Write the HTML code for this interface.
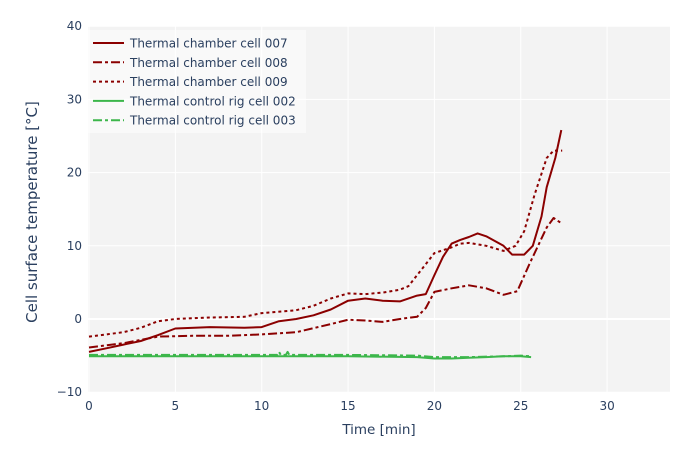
<!DOCTYPE html>
<html><head><meta charset="utf-8"><style>
body{margin:0;background:#fff;}
svg{font-family:"DejaVu Sans","Liberation Sans",sans-serif;}
</style></head><body>
<svg id="chart" width="695" height="452" xmlns="http://www.w3.org/2000/svg">
<rect x="88" y="26" width="582" height="366" fill="#f3f3f3"/>
<g id="grid"></g>
<g id="series"></g>
<g id="ticks"></g>
<text transform="translate(37,212) rotate(-90)" text-anchor="middle" font-size="15" fill="#2a3f5f">Cell surface temperature [°C]</text>
<text x="379" y="434" text-anchor="middle" font-size="13.5" fill="#2a3f5f">Time [min]</text>
<g id="legend"></g>
</svg>
<script>
const xTicks=[0,5,10,15,20,25,30];
const yTicks=[-10,0,10,20,30,40];
const seriesNames=["Thermal chamber cell 007","Thermal chamber cell 008","Thermal chamber cell 009","Thermal control rig cell 002","Thermal control rig cell 003"];
const t007=[0,1,2,3,4,5,7,9,10,11,12,13,14,15,16,17,18,19,19.5,20,20.5,21,21.5,22,22.5,23,24,24.5,25.2,25.7,26.2,26.5,27,27.35];
const v007=[-4.5,-4,-3.5,-3,-2.2,-1.3,-1.1,-1.2,-1.1,-0.3,0,0.5,1.3,2.5,2.8,2.5,2.4,3.2,3.4,6,8.5,10.3,10.8,11.2,11.7,11.3,10,8.8,8.8,10,14,18,22,25.8];
const t008=[0,2,4,6,8,10,12,14,15,16,17,18,18.3,19,19.5,20,21,22,23,24,24.8,25.5,26.5,26.9,27.4];
const v008=[-3.9,-3.3,-2.4,-2.3,-2.3,-2.1,-1.8,-0.7,-0.1,-0.2,-0.4,0,0.1,0.3,1.5,3.7,4.2,4.6,4.2,3.3,3.8,7.5,12.5,13.8,13];
const t009=[0,2,3,4,5,7,9,10,12,13,14,15,16,17,18,18.5,19.5,20,21,21.5,22,23,24,24.7,25.2,25.8,26.5,26.9,27.4];
const v009=[-2.4,-1.8,-1.2,-0.3,0,0.2,0.3,0.8,1.2,1.8,2.8,3.5,3.4,3.6,4,4.5,7.5,9,9.8,10.3,10.4,10,9.3,10,12,17,22,23,23];
const t002=[0,5,10,15,19,20,21,22,23,24,25,25.6];
const v002=[-5.1,-5.1,-5.1,-5.1,-5.2,-5.4,-5.4,-5.3,-5.2,-5.1,-5.1,-5.2];
const t003=[0,5,10,10.9,11,11.1,11.4,11.5,11.6,15,19,20,22,24,25,25.6];
const v003=[-4.9,-4.9,-4.9,-4.9,-4.5,-4.9,-4.9,-4.5,-4.9,-4.9,-5,-5.2,-5.2,-5.1,-5,-5.1];
const X=t=>89+t*17.27, Y=v=>319-v*7.32;
const NS="http://www.w3.org/2000/svg";
function mk(tag,attrs,parent){const e=document.createElementNS(NS,tag);for(const k in attrs)e.setAttribute(k,attrs[k]);parent.appendChild(e);return e;}
const grid=document.getElementById('grid'),ticks=document.getElementById('ticks'),ser=document.getElementById('series'),leg=document.getElementById('legend');
xTicks.forEach(t=>{const l=mk('line',{x1:X(t),x2:X(t),y1:26,y2:392,stroke:'#fff','stroke-width':1},grid);

const tx=mk('text',{x:X(t),y:410,'text-anchor':'middle','font-size':12,fill:'#2a3f5f'},ticks);tx.textContent=t;
});
yTicks.forEach(v=>{const l=mk('line',{x1:88,x2:670,y1:Y(v),y2:Y(v),stroke:'#fff','stroke-width':v===0?2:1},grid);

const tx=mk('text',{x:82,y:Y(v)+4,'text-anchor':'end','font-size':12,fill:'#2a3f5f'},ticks);tx.textContent=v===-10?'−10':v;
});
const styles=[{c:'#8b0000',d:''},{c:'#8b0000',d:'9,3,3,3'},{c:'#8b0000',d:'3,3'},{c:'#3cb64b',d:''},{c:'#3cb64b',d:'9,3,3,3'}];
const data=[[t007,v007],[t008,v008],[t009,v009],[t002,v002],[t003,v003]];
data.forEach((s,i)=>{const pts=s[0].map((t,j)=>X(t).toFixed(1)+','+Y(s[1][j]).toFixed(1)).join(' ');
const p=mk('polyline',{points:pts,fill:'none',stroke:styles[i].c,'stroke-width':2,'stroke-dasharray':styles[i].d,'stroke-linejoin':'round'},ser);
});
const bg=mk('rect',{x:88,y:30,width:218,height:103,fill:'#fff','fill-opacity':0.5},leg);

seriesNames.forEach((n,i)=>{const y=43+i*19.3;
const g=mk('g',{},leg);
mk('line',{x1:93,x2:124,y1:y,y2:y,stroke:styles[i].c,'stroke-width':2,'stroke-dasharray':styles[i].d},g);
const tx=mk('text',{x:130,y:y+4.5,'font-size':12,fill:'#2a3f5f'},g);tx.textContent=n;});
</script>
</body></html>
